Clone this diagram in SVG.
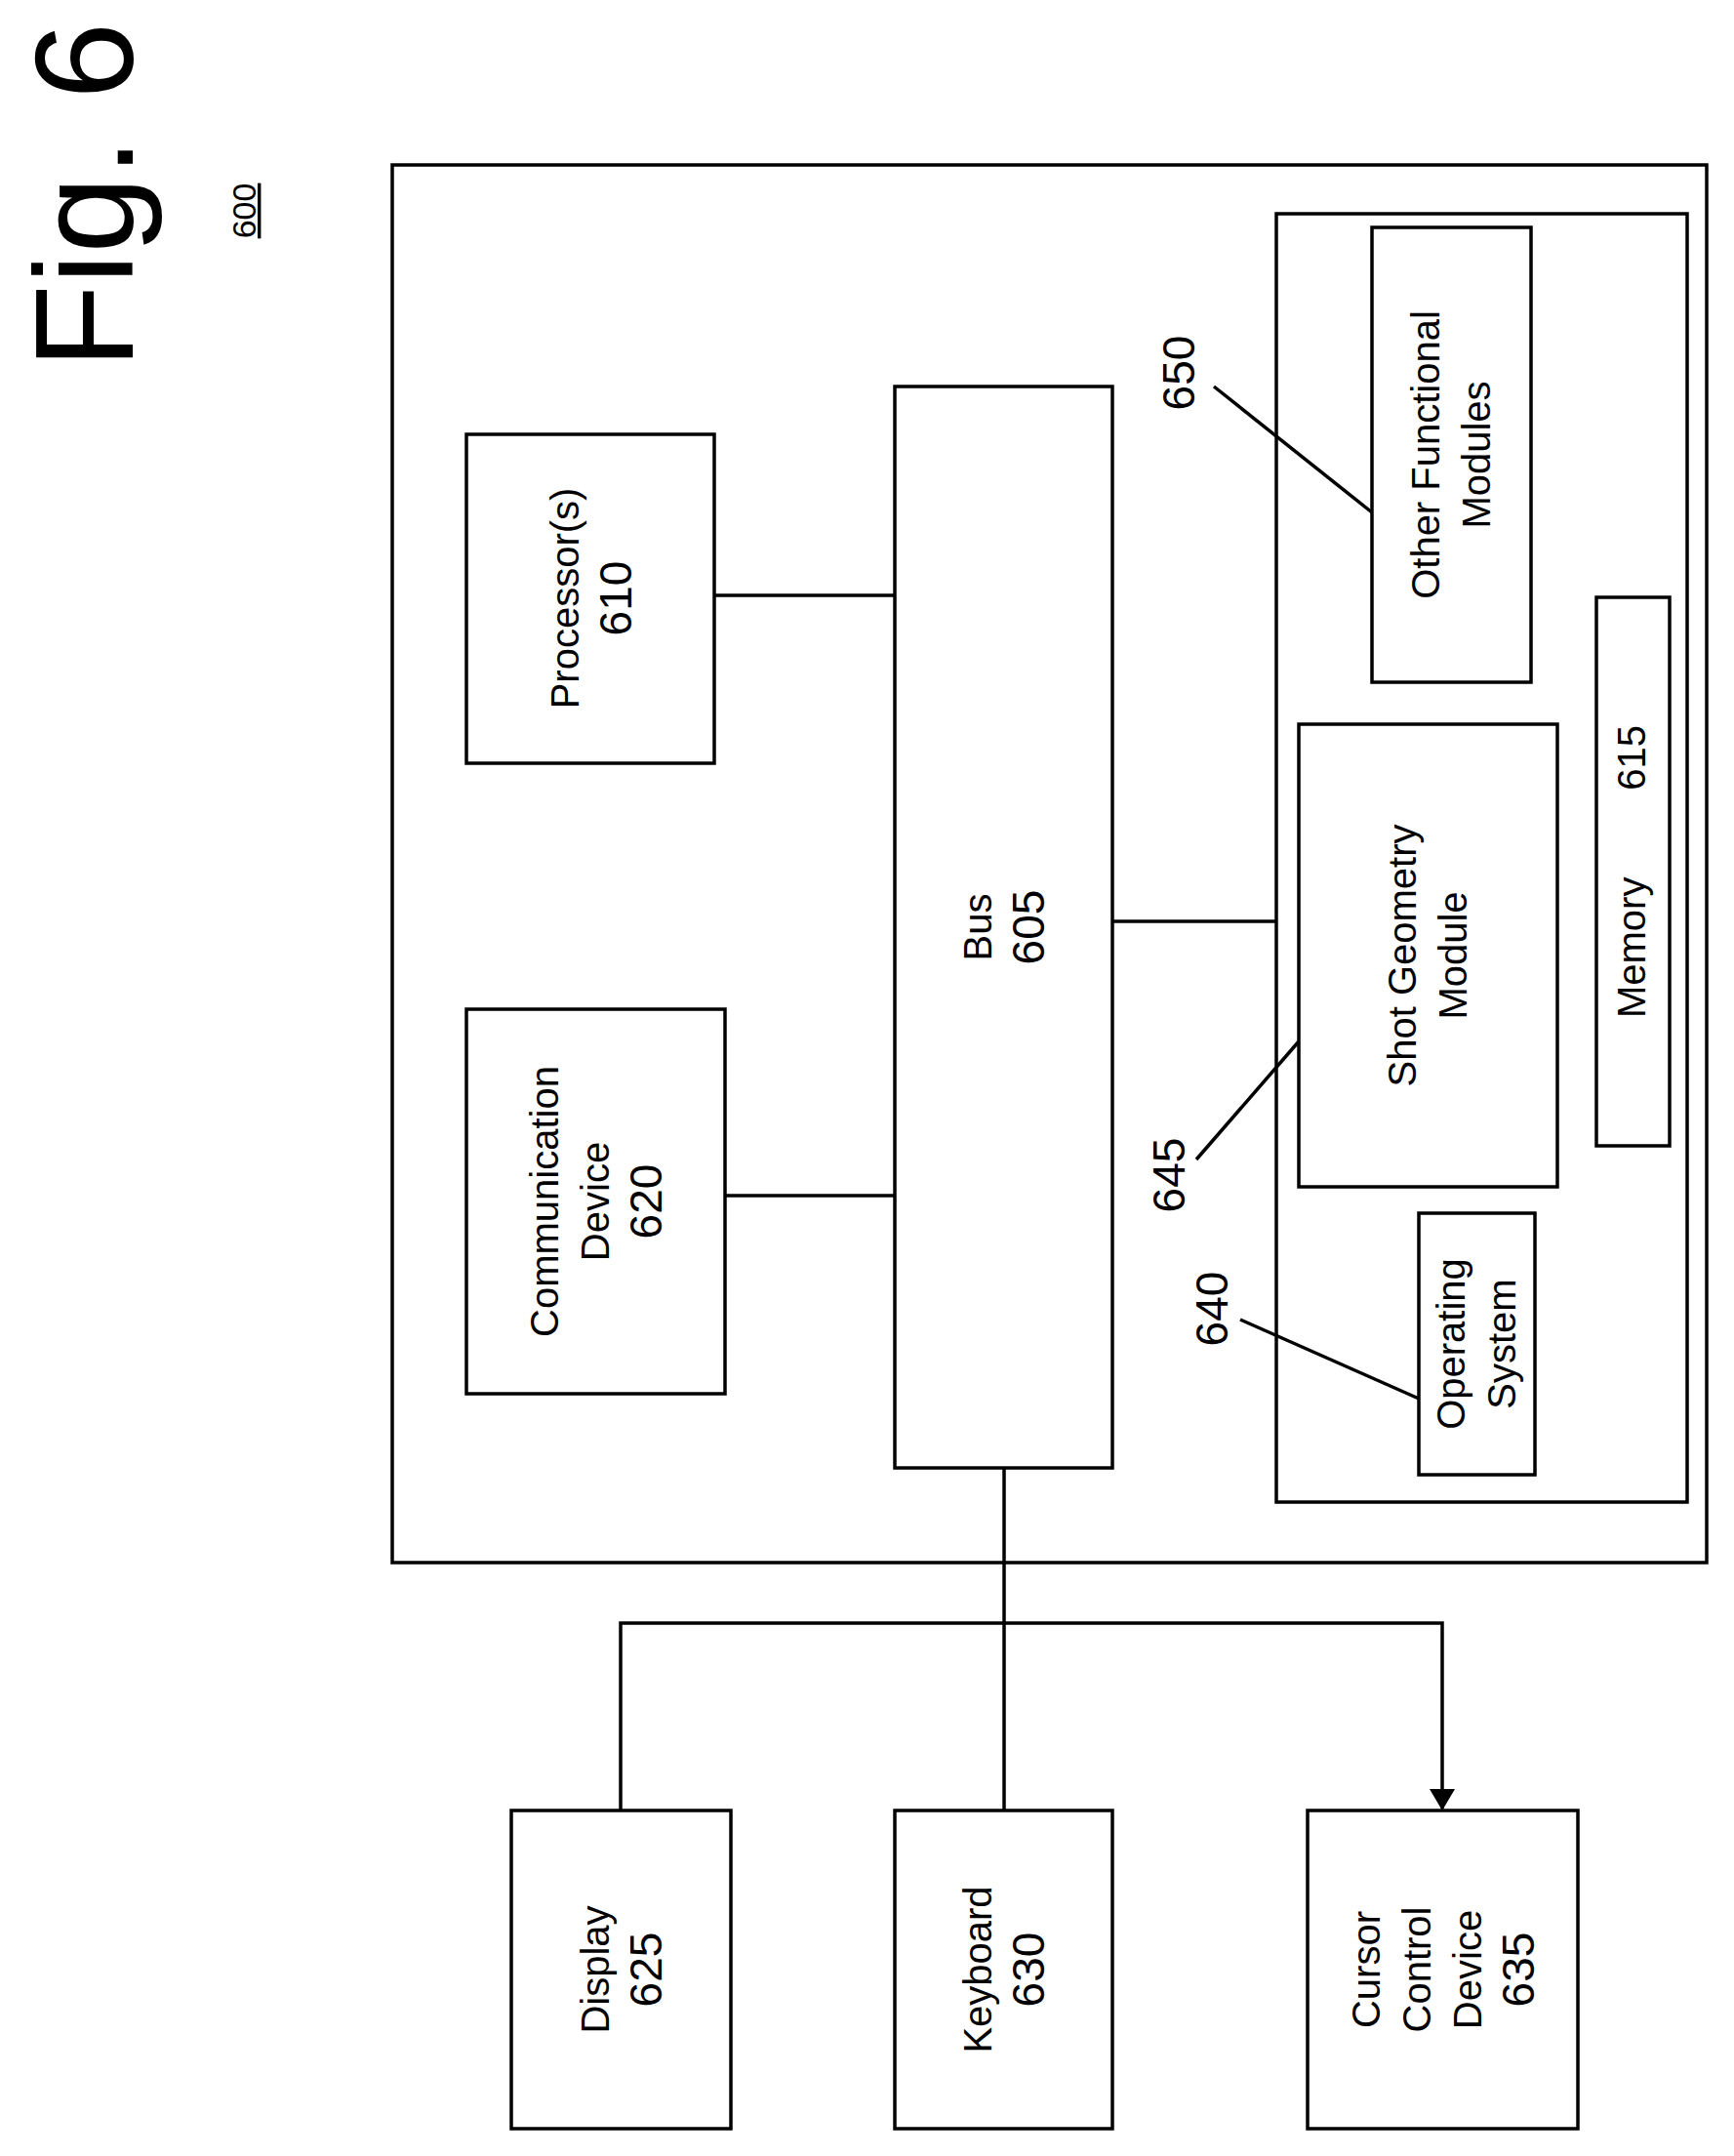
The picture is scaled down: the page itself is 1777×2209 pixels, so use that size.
<svg xmlns="http://www.w3.org/2000/svg" width="1777" height="2209" viewBox="0 0 1777 2209">
<style>
rect{fill:none;stroke:#000;stroke-width:3.5}
line,polyline{fill:none;stroke:#000;stroke-width:3.5}
text{font-family:"Liberation Sans",Arial,sans-serif;font-size:40px;text-anchor:middle;fill:#000}
.n{font-size:46px}
</style>
<defs><marker id="ar" markerWidth="22" markerHeight="26" refX="20" refY="13" orient="auto" markerUnits="userSpaceOnUse" viewBox="0 0 22 26"><path d="M0,0 L22,13 L0,26 z" fill="#000"/></marker></defs>
<rect width="1777" height="2209" style="fill:#fff;stroke:none"/>
<g id="title">
<text transform="translate(136,378) rotate(-90)" style="font-size:142px;text-anchor:start">Fig. 6</text>
<text transform="translate(262,216) rotate(-90)" style="font-size:34px;text-decoration:underline">600</text>
</g>
<g id="system"><rect x="402" y="169" width="1347" height="1432"/></g>
<g id="memory"><rect x="1308" y="219" width="421" height="1320"/>
<rect x="1636" y="612" width="75" height="562"/>
<text transform="translate(1686,893) rotate(-90)" xml:space="preserve">Memory        615</text></g>
<g id="other"><rect x="1406" y="233" width="163" height="466"/>
<text transform="translate(1487,466) rotate(-90)"><tspan x="0" dy="-12">Other Functional</tspan><tspan x="0" dy="52">Modules</tspan></text></g>
<g id="shot"><rect x="1331" y="742" width="265" height="474"/>
<text transform="translate(1463,979) rotate(-90)"><tspan x="0" dy="-12">Shot Geometry</tspan><tspan x="0" dy="52">Module</tspan></text></g>
<g id="os"><rect x="1454" y="1243" width="119" height="268"/>
<text transform="translate(1513,1377) rotate(-90)"><tspan x="0" dy="-12">Operating</tspan><tspan x="0" dy="52">System</tspan></text></g>
<g id="proc"><rect x="478" y="445" width="254" height="337"/>
<text transform="translate(605,613) rotate(-90)"><tspan x="0" dy="-12">Processor(s)</tspan><tspan x="0" dy="54" class="n">610</tspan></text></g>
<g id="comm"><rect x="478" y="1034" width="265" height="394"/>
<text transform="translate(610,1231) rotate(-90)"><tspan x="0" dy="-38">Communication</tspan><tspan x="0" dy="52">Device</tspan><tspan x="0" dy="54" class="n">620</tspan></text></g>
<g id="bus"><rect x="917" y="396" width="223" height="1108"/>
<text transform="translate(1028,950) rotate(-90)"><tspan x="0" dy="-12">Bus</tspan><tspan x="0" dy="54" class="n">605</tspan></text></g>
<g id="display"><rect x="524" y="1855" width="225" height="326"/>
<text transform="translate(636,2018) rotate(-90)"><tspan x="0" dy="-12">Display</tspan><tspan x="0" dy="54" class="n">625</tspan></text></g>
<g id="keyboard"><rect x="917" y="1855" width="223" height="326"/>
<text transform="translate(1028,2018) rotate(-90)"><tspan x="0" dy="-12">Keyboard</tspan><tspan x="0" dy="54" class="n">630</tspan></text></g>
<g id="cursor"><rect x="1340" y="1855" width="277" height="326"/>
<text transform="translate(1478,2018) rotate(-90)"><tspan x="0" dy="-64">Cursor</tspan><tspan x="0" dy="52">Control</tspan><tspan x="0" dy="52">Device</tspan><tspan x="0" dy="54" class="n">635</tspan></text></g>
<g id="labels">
<text class="n" transform="translate(1224,382) rotate(-90)">650</text>
<text class="n" transform="translate(1214,1204) rotate(-90)">645</text>
<text class="n" transform="translate(1258,1341) rotate(-90)">640</text>
</g>
<g id="connectors">
<line x1="732" y1="610" x2="917" y2="610"/>
<line x1="743" y1="1225" x2="917" y2="1225"/>
<line x1="1140" y1="944" x2="1308" y2="944"/>
<line x1="1029" y1="1504" x2="1029" y2="1855"/>
<polyline points="636,1855 636,1663 1478,1663 1478,1853" marker-end="url(#ar)"/>
<line x1="1244" y1="396" x2="1406" y2="525"/>
<line x1="1226" y1="1188" x2="1331" y2="1067"/>
<line x1="1271" y1="1352" x2="1454" y2="1433"/>
</g>
</svg>
